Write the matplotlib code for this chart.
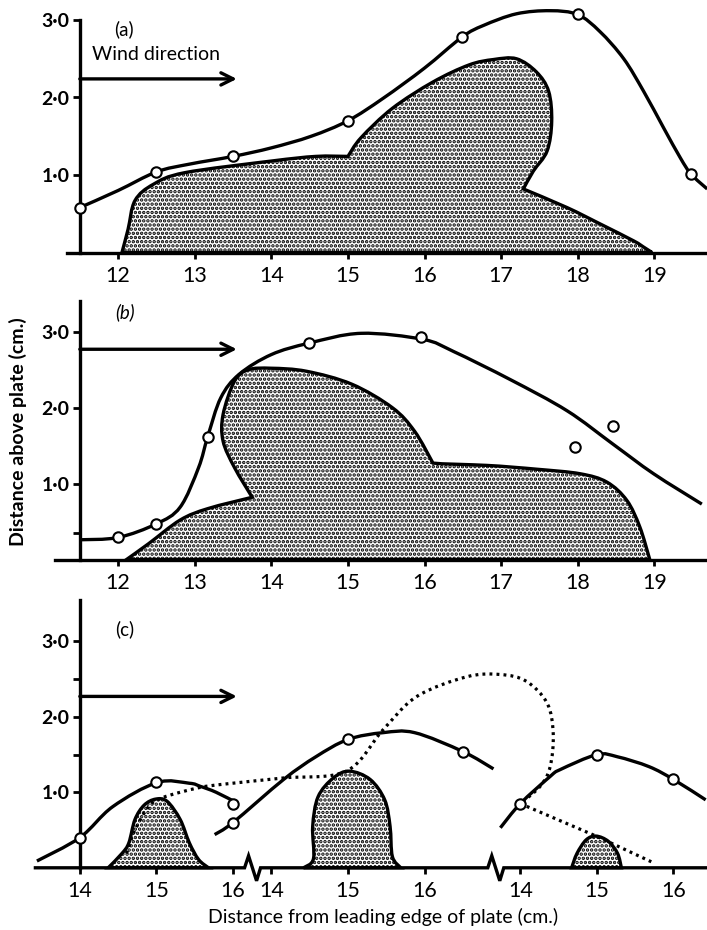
import numpy as np
import matplotlib
matplotlib.use("Agg")
import matplotlib.pyplot as plt
from matplotlib.path import Path
from matplotlib.patches import PathPatch

plt.rcParams['font.family'] = ['Lato', 'DejaVu Sans']
plt.rcParams['hatch.linewidth'] = 1.7

# ---------------- data ----------------
# Panel (a)
A_PTS_X = [11.5, 12.5, 13.5, 15.0, 16.49, 18.0, 19.48]
A_PTS_Y = [0.58, 1.04, 1.24, 1.70, 2.78, 3.08, 1.01]
A_CURVE_X = [11.5, 12.0, 12.5, 12.93, 13.5, 14.0, 14.52, 15.0, 15.46, 16.0, 16.49,
             16.77, 17.2, 17.64, 18.0, 18.29, 18.6, 18.86, 19.12, 19.34, 19.48, 19.69]
A_CURVE_Y = [0.58, 0.80, 1.04, 1.14, 1.24, 1.35, 1.50, 1.70, 1.99, 2.38, 2.78,
             2.93, 3.08, 3.12, 3.07, 2.85, 2.50, 2.08, 1.61, 1.22, 1.01, 0.82]
A_AREA = [  # pieces of the outline of the shaded region (corners between pieces)
    ([12.05, 12.13, 12.22, 12.46, 12.87, 14.0, 14.58, 15.0],
     [0.0, 0.30, 0.67, 0.88, 1.03, 1.18, 1.24, 1.24]),
    ([15.0, 15.17, 15.58, 16.11, 16.58, 16.9, 17.2, 17.46, 17.62, 17.66, 17.6, 17.42, 17.29],
     [1.24, 1.48, 1.86, 2.20, 2.42, 2.49, 2.50, 2.33, 2.08, 1.69, 1.31, 1.05, 0.82]),
    ([17.29, 17.86, 18.29, 18.73, 18.86, 18.97],
     [0.82, 0.58, 0.37, 0.15, 0.07, 0.0]),
]

# Panel (b)
B_PTS_X = [12.0, 12.49, 13.17, 14.49, 15.96, 17.97, 18.46]
B_PTS_Y = [0.29, 0.47, 1.62, 2.85, 2.93, 1.48, 1.76]
B_CURVE_X = [11.5, 12.0, 12.5, 12.81, 13.05, 13.17, 13.34, 13.58, 14.0, 14.49, 15.17,
             15.98, 16.38, 17.12, 17.86, 18.46, 18.99, 19.62]
B_CURVE_Y = [0.26, 0.29, 0.47, 0.69, 1.21, 1.62, 2.13, 2.44, 2.70, 2.85, 2.98,
             2.90, 2.74, 2.37, 1.96, 1.52, 1.13, 0.73]
B_AREA = [
    ([12.11, 12.4, 12.81, 13.17, 13.75],
     [0.0, 0.21, 0.52, 0.67, 0.82]),
    ([13.75, 13.52, 13.37, 13.37, 13.52, 13.70, 14.0, 14.46, 15.05, 15.58, 15.87, 16.11],
     [0.82, 1.21, 1.56, 1.91, 2.35, 2.50, 2.52, 2.48, 2.31, 2.00, 1.69, 1.27]),
    ([16.11, 16.81, 17.46, 18.03, 18.38, 18.64, 18.81, 18.94],
     [1.26, 1.24, 1.19, 1.13, 1.02, 0.78, 0.43, 0.0]),
]

# Panel (c): three runs, each on its own local scale 14-16 cm
C_TICKS = [14, 15, 16]
C_PTS_X = [[14.0, 15.0, 16.0], [13.5, 15.0, 16.5], [14.0, 15.0, 16.0]]
C_PTS_Y = [[0.40, 1.13, 0.84], [0.60, 1.70, 1.54], [0.85, 1.50, 1.17]]
C_CURVE_X = [[13.44, 14.0, 14.43, 15.01, 15.43, 15.57, 15.78, 16.05],
             [13.26, 13.5, 14.16, 14.58, 15.0, 15.46, 15.87, 16.5, 16.9],
             [13.74, 14.0, 14.39, 14.52, 15.0, 15.27, 15.68, 16.0, 16.42]]
C_CURVE_Y = [[0.09, 0.40, 0.81, 1.13, 1.12, 1.08, 1.00, 0.86],
             [0.44, 0.60, 1.17, 1.47, 1.70, 1.79, 1.79, 1.54, 1.31],
             [0.53, 0.85, 1.21, 1.30, 1.50, 1.47, 1.34, 1.17, 0.90]]
C_AREA_X = [[14.37, 14.55, 14.64, 14.72, 14.84, 14.99, 15.14, 15.31, 15.43, 15.55, 15.68],
            [14.42, 14.55, 14.54, 14.61, 14.81, 15.02, 15.29, 15.48, 15.55, 15.58, 15.69],
            [14.67, 14.74, 14.86, 14.99, 15.15, 15.27, 15.32]]
C_AREA_Y = [[0.0, 0.19, 0.33, 0.64, 0.83, 0.91, 0.88, 0.64, 0.33, 0.11, 0.0],
            [0.0, 0.12, 0.55, 0.94, 1.19, 1.28, 1.17, 0.90, 0.55, 0.15, 0.0],
            [0.0, 0.19, 0.37, 0.42, 0.35, 0.19, 0.0]]
# dotted trajectory (on the scale of the middle run)
C_DOT1_X = [12.11, 12.22, 12.40, 12.58, 13.05, 13.40, 14.16, 14.98, 15.46, 15.90,
            16.55, 16.99, 17.33, 17.60, 17.68, 17.64, 17.51, 17.25]
C_DOT1_Y = [0.19, 0.50, 0.81, 0.93, 1.06, 1.11, 1.19, 1.28, 1.83, 2.27,
            2.53, 2.56, 2.47, 2.18, 1.78, 1.34, 1.08, 0.85]
C_DOT2_X = [17.25, 18.24, 18.96]
C_DOT2_Y = [0.85, 0.42, 0.08]

TICK_X = [12, 13, 14, 15, 16, 17, 18, 19]
TICK_Y = [1, 2, 3]
TICK_Y_LABELS = ['1·0', '2·0', '3·0']

LW = 2.4

# ---------------- helpers ----------------
def spline_segments(xs, ys, first=True):
    P = np.column_stack([xs, ys]).astype(float)
    n = len(P)
    verts, codes = [], []
    if first:
        verts.append(P[0]); codes.append(Path.MOVETO)
    for i in range(n - 1):
        p0 = P[i - 1] if i > 0 else P[i]
        p1, p2 = P[i], P[i + 1]
        p3 = P[i + 2] if i + 2 < n else P[i + 1]
        verts += [p1 + (p2 - p0) / 6.0, p2 - (p3 - p1) / 6.0, p2]
        codes += [Path.CURVE4] * 3
    return verts, codes


def smooth_line(ax, xs, ys, dx=0.0, **kw):
    v, c = spline_segments(np.asarray(xs) + dx, ys)
    ax.add_patch(PathPatch(Path(v, c), fill=False, capstyle='butt', **kw))


def shaded(ax, pieces, dx=0.0):
    verts, codes = [], []
    for k, (xs, ys) in enumerate(pieces):
        v, c = spline_segments(np.asarray(xs) + dx, ys, first=(k == 0))
        verts += v; codes += c
    verts.append(verts[0]); codes.append(Path.CLOSEPOLY)
    ax.add_patch(PathPatch(Path(verts, codes), facecolor='white', edgecolor='black',
                           hatch='....', lw=LW, joinstyle='miter', zorder=2))


def circles(ax, xs, ys, dx=0.0):
    ax.plot(np.asarray(xs) + dx, ys, 'o', ms=7.5, mfc='white', mec='black',
            mew=1.5, zorder=5, clip_on=False)


def arrow(ax, y):
    ax.annotate('', xy=(13.55, y), xytext=(11.5, y),
                arrowprops=dict(arrowstyle='->', lw=LW, color='black',
                                mutation_scale=22, shrinkA=0, shrinkB=0))


def setup(ax, ylim, ytop, bottom_from, minor=()):
    ax.set_xlim(10.8, 19.69)
    ax.set_ylim(*ylim)
    ax.patch.set_alpha(0)
    for s in ['top', 'right']:
        ax.spines[s].set_visible(False)
    ax.spines['left'].set_position(('data', 11.5))
    ax.spines['left'].set_bounds(0, ytop)
    ax.spines['bottom'].set_position(('data', 0))
    ax.spines['bottom'].set_bounds(bottom_from, 19.69)
    for s in ['left', 'bottom']:
        ax.spines[s].set_linewidth(LW)
    ax.set_yticks(TICK_Y)
    ax.set_yticklabels(TICK_Y_LABELS, fontweight='bold')
    ax.set_yticks(list(minor), minor=True)
    ax.tick_params(axis='y', which='both', direction='out', length=5, width=2,
                   pad=2.5, labelsize=14)
    ax.tick_params(axis='x', which='both', direction='out', length=4.5, width=2,
                   pad=5, labelsize=15.5)


fig = plt.figure(figsize=(7.07, 9.30), dpi=100)
W, H = 707.0, 930.0
XL, XW = 26.2 / W, 681.0 / W

def make_axes(y0px, unit, ylo, yhi):
    top = y0px - yhi * unit
    bot = y0px - ylo * unit
    return fig.add_axes([XL, 1 - bot / H, XW, (bot - top) / H])

# ---------------- panel (a) ----------------
ax = make_axes(252.5, 77.5, -0.45, 3.25)
setup(ax, (-0.45, 3.25), 3.0, 11.33)
ax.set_xticks(TICK_X)
shaded(ax, A_AREA)
smooth_line(ax, A_CURVE_X, A_CURVE_Y, lw=LW, color='black', zorder=3)
circles(ax, A_PTS_X, A_PTS_Y)
arrow(ax, 2.24)
ax.text(12.08, 2.88, '(a)', fontsize=13.5, ha='center', va='center')
ax.text(11.66, 2.56, 'Wind direction', fontsize=14, ha='left', va='center')

# ---------------- panel (b) ----------------
ax = make_axes(559.5, 75.9, -0.45, 3.55)
setup(ax, (-0.45, 3.55), 3.4, 11.18, minor=[0.35])
ax.set_xticks(TICK_X)
shaded(ax, B_AREA)
smooth_line(ax, B_CURVE_X, B_CURVE_Y, lw=LW, color='black', zorder=3)
circles(ax, B_PTS_X, B_PTS_Y)
arrow(ax, 2.77)
ax.text(12.09, 3.26, '(b)', fontsize=13.5, style='italic', ha='center', va='center')

# ---------------- panel (c) ----------------
OFFS = [-2.5, 0.0, 3.25]   # placement of the three runs along the broken axis
BREAKS = [13.755, 16.93]
ax = make_axes(867.8, 75.5, -0.45, 3.6)
setup(ax, (-0.45, 3.6), 3.55, 10.92, minor=[1.5, 2.5])
ax.spines['bottom'].set_edgecolor('none')
ticks = [t + o for o in OFFS for t in C_TICKS]
ax.set_xticks(ticks)
ax.set_xticklabels([str(t) for o in OFFS for t in C_TICKS])
# broken baseline with zig-zags
ux, uy = 1 / 76.6, 1 / 75.5
bx, by = [10.92], [0.0]
for b in BREAKS:
    for dxp, dyp in [(-8, 0), (-4, 12), (4, -13), (8, 0)]:
        bx.append(b + dxp * ux); by.append(dyp * uy)
bx.append(19.69); by.append(0.0)
ax.plot(bx, by, color='black', lw=LW, solid_joinstyle='miter', zorder=4,
        clip_on=False)
for k in range(3):
    xs, ys = C_AREA_X[k], C_AREA_Y[k]
    shaded(ax, [(xs, ys)], dx=OFFS[k])
for k in range(3):
    smooth_line(ax, C_CURVE_X[k], C_CURVE_Y[k], dx=OFFS[k], lw=LW,
                color='black', zorder=3)
smooth_line(ax, C_DOT1_X, C_DOT1_Y, lw=2.3, color='black',
            linestyle=(0, (0.9, 1.3)), zorder=3)
ax.plot(C_DOT2_X, C_DOT2_Y, color='black', lw=2.3, linestyle=(0, (0.9, 1.3)), zorder=3)
for k in range(3):
    circles(ax, C_PTS_X[k], C_PTS_Y[k], dx=OFFS[k])
arrow(ax, 2.27)
ax.text(12.09, 3.16, '(c)', fontsize=13.5, ha='center', va='center')

fig.text(18 / W, 1 - 432 / H, 'Distance above plate (cm.)', rotation=90,
         fontsize=14, fontweight='bold', ha='center', va='center')
fig.text(383 / W, 1 - 917 / H, 'Distance from leading edge of plate (cm.)',
         fontsize=14, ha='center', va='center')

fig.savefig('out.png', dpi=100)
